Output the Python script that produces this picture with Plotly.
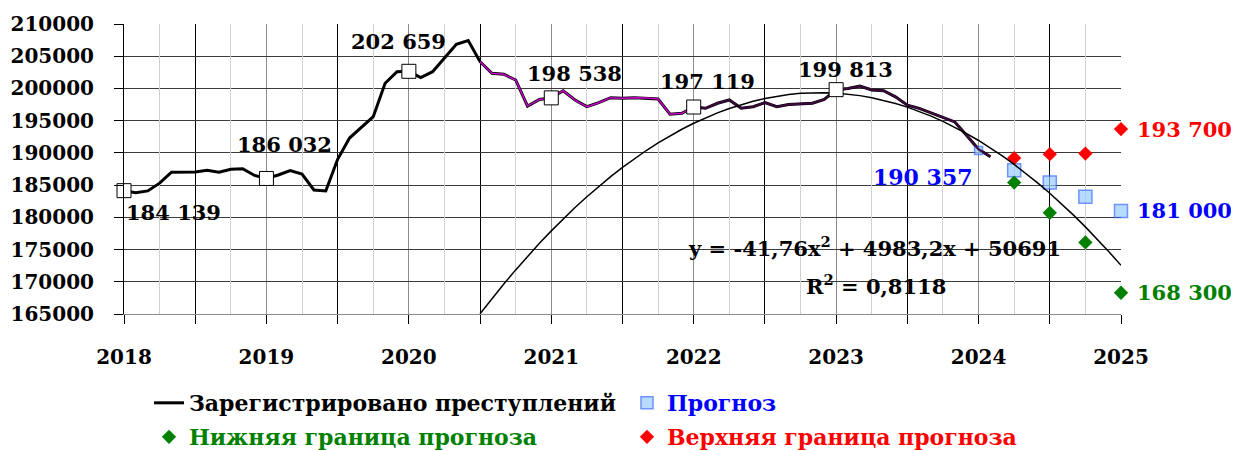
import numpy as np
import plotly.graph_objects as go

# registered crimes, monthly, Jan 2018 .. Feb 2024
crimes = [
    184139, 183800, 184100, 185300, 187000, 187000, 187030, 187300, 187000, 187450, 187550, 186500,
    186032, 186570, 187240, 186720, 184240, 184090, 189000, 192300, 194000, 195620, 200800, 202600,
    202659, 201670, 202600, 204800, 206850, 207420, 204150, 202350, 202200, 201310, 197270, 198300,
    198538, 199650, 198200, 197170, 197790, 198570, 198470, 198560, 198500, 198360, 196000, 196140,
    197119, 196920, 197700, 198210, 196920, 197170, 197790, 197170, 197500, 197590, 197700, 198300,
    199813, 200000, 200380, 199760, 199650, 198700, 197400, 196900, 196200, 195600, 194800, 192700,
    190560, 189410,
]
months = [2018 + i / 12 for i in range(len(crimes))]

jan_idx = [0, 12, 24, 36, 48, 60]
jan_labels = ['184 139', '186 032', '202 659', '198 538', '197 119', '199 813']

forecast_x = [2024, 2024.25, 2024.5, 2024.75, 2025]
forecast = [190357, 187300, 185400, 183200, 181000]
bound_x = [2024.25, 2024.5, 2024.75, 2025]
lower = [185400, 180700, 176100, 168300]
upper = [189200, 189800, 189900, 193700]

# polynomial trend shown on the chart (x = month number, Jan 2018 = 1)
trend_coef = [-41.76, 4983.2, 50691]
trend_t = np.arange(31, 86)

FONT = 'DejaVu Serif'

fig = go.Figure()

fig.add_trace(go.Scatter(
    x=months, y=crimes, mode='lines', name='Зарегистрировано преступлений',
    line=dict(color='black', width=3), legend='legend',
))
fig.add_trace(go.Scatter(
    x=forecast_x, y=forecast, mode='markers',
    name='<span style="color:#0000FF">Прогноз</span>',
    marker=dict(symbol='square', size=[8, 13, 13, 13, 13], color='#99CCFF',
                line=dict(color='#3366FF', width=1.5)),
    cliponaxis=False, legend='legend',
))
fig.add_trace(go.Scatter(
    x=bound_x, y=lower, mode='markers',
    name='<span style="color:#008000">Нижняя граница прогноза</span>',
    marker=dict(symbol='diamond', size=11, color='#008000'),
    cliponaxis=False, legend='legend2',
))
fig.add_trace(go.Scatter(
    x=bound_x, y=upper, mode='markers',
    name='<span style="color:#FF0000">Верхняя граница прогноза</span>',
    marker=dict(symbol='diamond', size=11, color='#FF0000'),
    cliponaxis=False, legend='legend2',
))

# coloured overlay on the later part of the series
fig.add_trace(go.Scatter(
    x=months[30:49], y=crimes[30:49], mode='lines', showlegend=False,
    line=dict(color='#CC00CC', width=1.5),
))
fig.add_trace(go.Scatter(
    x=months[48:], y=crimes[48:], mode='lines', showlegend=False,
    line=dict(color='#3D0A3D', width=2),
))

fig.add_trace(go.Scatter(
    x=2018 + (trend_t - 1) / 12, y=np.polyval(trend_coef, trend_t), mode='lines',
    showlegend=False, line=dict(color='black', width=1.5),
))

fig.add_trace(go.Scatter(
    x=[months[i] for i in jan_idx], y=[crimes[i] for i in jan_idx], mode='markers',
    showlegend=False, cliponaxis=False,
    marker=dict(symbol='square', size=14, color='white', line=dict(color='black', width=1)),
))
# dummy trace so the quarter grid axis exists
fig.add_trace(go.Scatter(x=[2018], y=[None], xaxis='x2', showlegend=False, hoverinfo='skip'))

bold = dict(family=FONT, weight='bold', color='black')

label_offsets = [(49, 22), (18, -34), (-10, -30), (23, -24), (14, -26), (9, -20)]
for i, txt, (dx, dy) in zip(jan_idx, jan_labels, label_offsets):
    fig.add_annotation(x=months[i], y=crimes[i], text=txt, showarrow=False,
                       xshift=dx, yshift=-dy, font=dict(bold, size=21))

fig.add_annotation(x=forecast_x[0], y=forecast[0], text='190 357', showarrow=False,
                   xshift=-56, yshift=-26, font=dict(bold, size=22, color='#0000FF'))
for yv, col in [(upper[-1], '#FF0000'), (forecast[-1], '#0000FF'), (lower[-1], '#008000')]:
    fig.add_annotation(x=2025, y=yv, text=f'{yv:,}'.replace(',', ' '), showarrow=False,
                       xanchor='left', xshift=14, font=dict(bold, size=21, color=col))

fig.add_annotation(x=2023.27, y=175440, text='y = -41,76x<sup>2</sup> + 4983,2x + 50691',
                   showarrow=False, font=dict(bold, size=21))
fig.add_annotation(x=2023.28, y=169500, text='R<sup>2</sup> = 0,8118',
                   showarrow=False, font=dict(bold, size=21))

legend_style = dict(
    orientation='h', xref='container', yref='container', x=0.1138, xanchor='left',
    yanchor='top', entrywidth=433, entrywidthmode='pixels', font=dict(bold, size=22),
    traceorder='normal', bgcolor='rgba(0,0,0,0)',
)

fig.update_layout(
    width=1239, height=451,
    # page body adds an 8px offset, margins are set so the plot lands at 124..1121 x 24..314
    margin=dict(l=116, r=126, t=16, b=145, autoexpand=False),
    plot_bgcolor='white', paper_bgcolor='white',
    font=dict(family=FONT, size=20, color='black'),
    xaxis=dict(
        range=[2018, 2025], tick0=2018, dtick=1, showgrid=True, gridcolor='#8C8C8C',
        ticks='outside', ticklen=9, tickcolor='black', zeroline=False,
        tickfont=dict(bold, size=20), ticklabelstandoff=16, automargin=False,
        minor=dict(tick0=2018, dtick=0.5, showgrid=True, gridcolor='black',
                   ticks='outside', ticklen=9, tickcolor='black'),
        showline=True, linecolor='#8C8C8C',
    ),
    xaxis2=dict(
        range=[2018, 2025], overlaying='x', tick0=2018.25, dtick=0.5, showgrid=True,
        gridcolor='#D0D0D0', showticklabels=False, ticks='', zeroline=False,
        automargin=False,
    ),
    yaxis=dict(
        range=[165000, 210000], dtick=5000, tickformat='d', showgrid=True,
        gridcolor='#3A3A3A', ticks='outside', ticklen=9, tickcolor='black',
        zeroline=False, showline=True, linecolor='black', automargin=False,
        tickfont=dict(bold, size=20), ticklabelstandoff=16,
    ),
    legend=dict(legend_style, y=0.1707),
    legend2=dict(legend_style, y=0.0953),
    showlegend=True,
)

fig.write_html('out.html')
